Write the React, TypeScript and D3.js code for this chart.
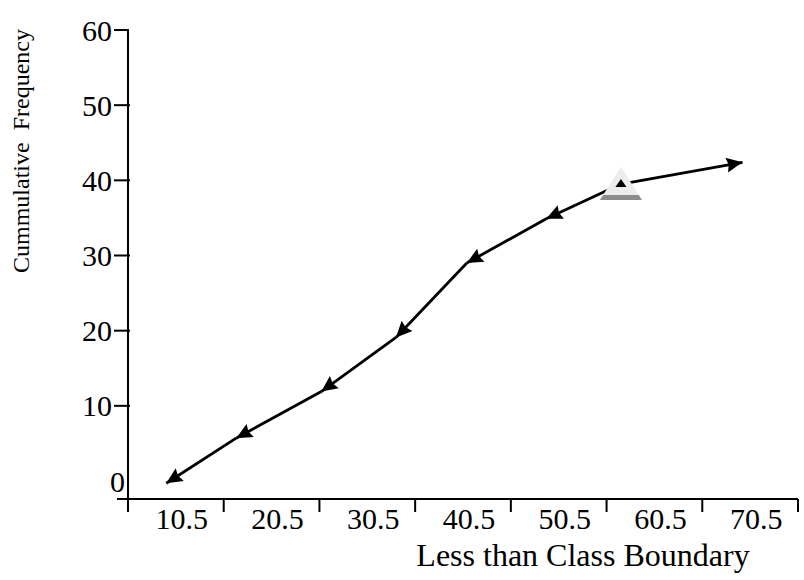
import React from "react";
import * as d3 from "d3";

const tickBoundaries = [5.5, 15.5, 25.5, 35.5, 45.5, 55.5, 65.5, 75.5];
const xLabels = ["10.5", "20.5", "30.5", "40.5", "50.5", "60.5", "70.5"];
const xLabelValues = [10.5, 20.5, 30.5, 40.5, 50.5, 60.5, 70.5];
const yTicks = [0, 10, 20, 30, 40, 50, 60];
const pointX = [9.5, 16.8, 25.7, 33.5, 40.9, 49.2, 57.0, 69.7];
const pointY = [-0.3, 5.7, 11.9, 19.1, 29.0, 34.9, 39.5, 42.4];
const highlightIndex = 6;

const W = 804;
const H = 580;

export default function App() {
  const x = d3.scaleLinear().domain([5.5, 75.5]).range([128, 798]);
  const y = d3.scaleLinear().domain([0, 60]).range([481, 30]);
  const axisY = 499;
  const axisX = x(5.5);
  const font = "'Liberation Serif', 'Times New Roman', serif";

  const pts = pointX.map((v, i) => [x(v), y(pointY[i])] as [number, number]);
  const n = pts.length;
  const segs: [[number, number], [number, number]][] = [];
  for (let i = 0; i < n - 2; i++) segs.push([pts[i + 1], pts[i]]);
  segs.push([pts[n - 2], pts[n - 1]]);

  const line = d3.line();
  const hp = pts[highlightIndex];

  return (
    <svg
      width={W}
      height={H}
      style={{ position: "absolute", left: 0, top: 0, background: "#fff" }}
    >
      <defs>
        <marker
          id="arr"
          markerUnits="userSpaceOnUse"
          markerWidth={20}
          markerHeight={20}
          viewBox="-18 -10 20 20"
          refX={0}
          refY={0}
          orient="auto"
        >
          <path d="M0,0 L-16,-7.5 L-14,0 L-16,7.5 Z" fill="#000" />
        </marker>
      </defs>

      {/* axes */}
      <line x1={axisX} x2={axisX} y1={y(60) - 1} y2={axisY + 12} stroke="#000" strokeWidth={2} />
      <line x1={117} x2={x(75.5)} y1={axisY} y2={axisY} stroke="#000" strokeWidth={2} />

      {yTicks.filter((t) => t > 0).map((t) => (
        <line key={"yt" + t} x1={114} x2={t === 60 ? axisX : axisX + 2} y1={y(t)} y2={y(t)} stroke="#000" strokeWidth={2} />
      ))}
      {yTicks.map((t) => (
        <text
          key={"yl" + t}
          x={t === 0 ? 125 : 112}
          y={y(t)}
          dy="0.35em"
          textAnchor="end"
          fontFamily={font}
          fontSize={30}
          fill="#000"
        >
          {t}
        </text>
      ))}

      {tickBoundaries.map((b) => (
        <line key={"xt" + b} x1={x(b)} x2={x(b)} y1={axisY} y2={axisY + 13} stroke="#000" strokeWidth={2} />
      ))}
      {xLabels.map((l, i) => (
        <text
          key={"xl" + l}
          x={x(xLabelValues[i]) + 6}
          y={529}
          textAnchor="middle"
          fontFamily={font}
          fontSize={30}
          fill="#000"
        >
          {l}
        </text>
      ))}

      <text x={583} y={566} textAnchor="middle" fontFamily={font} fontSize={32} fill="#000">
        Less than Class Boundary
      </text>
      <text
        transform={`translate(29,151) rotate(-90)`}
        textAnchor="middle"
        fontFamily={font}
        fontSize={24}
        fill="#000"
        style={{ whiteSpace: "pre" }}
      >
        {"Cummulative  Frequency"}
      </text>

      {/* ogive segments */}
      {segs.map((s, i) => (
        <path
          key={"s" + i}
          d={line(s) || ""}
          stroke="#000"
          strokeWidth={2.8}
          fill="none"
          markerEnd="url(#arr)"
        />
      ))}

      {/* highlighted point */}
      <g transform={`translate(${hp[0]},${hp[1]})`}>
        <path d="M0,-17 L21,16 L-21,16 Z" fill="#ececec" />
        <path d="M-17.8,11 L17.8,11 L21,16 L-21,16 Z" fill="#8c8c8c" />
        <path d="M0,-5 L5.5,3 L-5.5,3 Z" fill="#000" />
      </g>
    </svg>
  );
}
